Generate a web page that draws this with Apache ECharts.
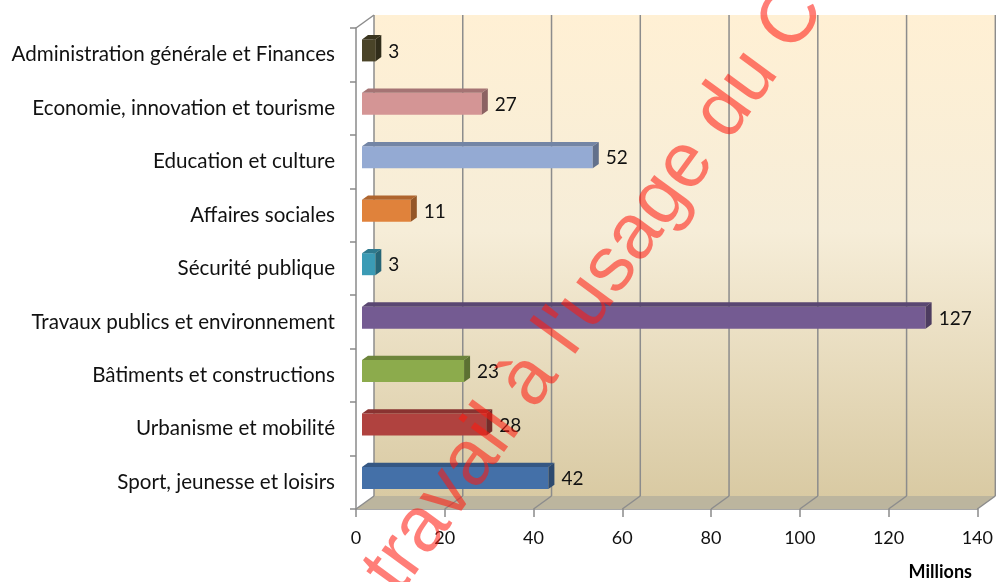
<!DOCTYPE html>
<html>
<head>
<meta charset="utf-8">
<script src="https://cdn.jsdelivr.net/npm/echarts@6/dist/echarts.min.js"></script>
<style>
  html, body { margin: 0; padding: 0; background: #fff; }
  #chart { width: 996px; height: 582px; }
</style>
</head>
<body>
<div id="chart"></div>
<script>
// categories, bottom to top (as the category axis reads them)
const categories = [
    'Sport, jeunesse et loisirs',
    'Urbanisme et mobilité',
    'Bâtiments et constructions',
    'Travaux publics et environnement',
    'Sécurité publique',
    'Affaires sociales',
    'Education et culture',
    'Economie, innovation et tourisme',
    'Administration générale et Finances'
];
const values = [42, 28, 23, 127, 3, 11, 52, 27, 3];
const barColors = ['#4470a8', '#b0423f', '#8cab4c', '#745b92', '#3b9bb5', '#e0823b', '#94aad3', '#d49595', '#4a4428'];
const xTicks = [0, 20, 40, 60, 80, 100, 120, 140];

// depth of the "3D" box (back wall offset) and of the bars
const DX = 18, DY = -13;
const BDX = 6, BDY = -4.3;
const BAR_H = 22;
const FONT = 'Lato, "Noto Sans", sans-serif';

function shade(hex, f) {
    const n = parseInt(hex.slice(1), 16);
    const r = Math.round(((n >> 16) & 255) * f);
    const g = Math.round(((n >> 8) & 255) * f);
    const b = Math.round((n & 255) * f);
    return 'rgb(' + r + ',' + g + ',' + b + ')';
}

const dom = document.getElementById('chart');
const myChart = echarts.init(dom);

const option = {
    animation: false,
    grid: { left: 356, right: 18, top: 28, bottom: 73 },
    xAxis: {
        type: 'value',
        min: 0,
        max: 140,
        interval: 20,
        axisLine: { show: true, lineStyle: { color: '#8a8a8a', width: 1.5 } },
        axisTick: { show: true, length: 8, lineStyle: { color: '#8a8a8a', width: 1.5 } },
        axisLabel: { color: '#111', fontSize: 18, fontFamily: FONT, margin: 20 },
        splitLine: { show: false }
    },
    yAxis: {
        type: 'category',
        data: categories,
        axisLine: { show: true, lineStyle: { color: '#8a8a8a', width: 1.5 } },
        axisTick: { show: true, length: 6, lineStyle: { color: '#8a8a8a', width: 1.5 } },
        axisLabel: { color: '#111', fontSize: 20.6, fontFamily: FONT, margin: 21 }
    },
    graphic: [
        {
            type: 'text',
            right: 24,
            top: 563,
            style: { text: 'Millions', font: 'bold 18px ' + FONT, fill: '#000' }
        },
        {
            // red watermark across the chart
            type: 'text',
            x: 350,
            y: 561,
            rotation: 54 * Math.PI / 180,
            z: 100,
            style: {
                text: "travail à l'usage du C",
                font: '78px "Liberation Sans", Arial, sans-serif',
                fill: 'rgba(255, 25, 15, 0.56)',
                textBaseline: 'alphabetic'
            }
        }
    ],
    series: [
        {
            // back wall, floor and grid lines of the box
            type: 'custom',
            silent: true,
            z: 1,
            data: [[0, 0]],
            renderItem: function (params, api) {
                const band = api.size([0, 1])[1];
                const pLow = api.coord([0, 0]);
                const pHigh = api.coord([0, categories.length - 1]);
                const x0 = pLow[0];
                const x1 = api.coord([xTicks[xTicks.length - 1], 0])[0];
                const yb = pLow[1] + band / 2;
                const yt = pHigh[1] - band / 2;
                const gridStyle = { stroke: '#8c8c8c', lineWidth: 1.5 };
                const children = [
                    {
                        type: 'polygon',
                        shape: { points: [[x0 + DX, yt + DY], [x1 + DX, yt + DY], [x1 + DX, yb + DY], [x0 + DX, yb + DY]] },
                        style: {
                            fill: new echarts.graphic.LinearGradient(0, 0, 0, 1, [
                                { offset: 0, color: '#fff0d4' },
                                { offset: 0.45, color: '#f6edd8' },
                                { offset: 1, color: '#d9caa3' }
                            ])
                        }
                    },
                    {
                        type: 'polygon',
                        shape: { points: [[x0, yb], [x1, yb], [x1 + DX, yb + DY], [x0 + DX, yb + DY]] },
                        style: { fill: '#bcb59e' }
                    },
                    {
                        type: 'line',
                        shape: { x1: x0, y1: yt, x2: x0 + DX, y2: yt + DY },
                        style: gridStyle
                    }
                ];
                xTicks.forEach(function (t) {
                    const x = api.coord([t, 0])[0];
                    children.push({
                        type: 'line',
                        shape: { x1: x + DX, y1: yt + DY, x2: x + DX, y2: yb + DY },
                        style: gridStyle
                    });
                    children.push({
                        type: 'line',
                        shape: { x1: x, y1: yb, x2: x + DX, y2: yb + DY },
                        style: gridStyle
                    });
                });
                return { type: 'group', children: children };
            }
        },
        {
            // 3D-looking bars
            type: 'custom',
            z: 3,
            data: values.map(function (v, i) { return [v, i]; }),
            encode: { x: 0, y: 1 },
            renderItem: function (params, api) {
                const v = api.value(0);
                const i = api.value(1);
                const end = api.coord([v, i]);
                const start = api.coord([0, i]);
                const col = barColors[i];
                const fx0 = start[0] + BDX;
                const fx1 = end[0] + BDX;
                const cy = end[1] + BDY;
                const top = cy - BAR_H / 2;
                const bot = cy + BAR_H / 2;
                return {
                    type: 'group',
                    children: [
                        {
                            type: 'polygon',
                            shape: { points: [[fx0, top], [fx1, top], [fx1, bot], [fx0, bot]] },
                            style: { fill: col }
                        },
                        {
                            type: 'polygon',
                            shape: { points: [[fx0, top], [fx1, top], [fx1 + BDX, top + BDY], [fx0 + BDX, top + BDY]] },
                            style: { fill: shade(col, 0.78) }
                        },
                        {
                            type: 'polygon',
                            shape: { points: [[fx1, top], [fx1 + BDX, top + BDY], [fx1 + BDX, bot + BDY], [fx1, bot]] },
                            style: { fill: shade(col, 0.66) }
                        },
                        {
                            type: 'text',
                            x: fx1 + BDX + 7,
                            y: cy + 1,
                            style: {
                                text: String(v),
                                font: '19px ' + FONT,
                                fill: '#111',
                                textAlign: 'left',
                                textVerticalAlign: 'middle'
                            }
                        }
                    ]
                };
            }
        }
    ]
};

myChart.setOption(option);
window.addEventListener('resize', function () { myChart.resize(); });
</script>
</body>
</html>
